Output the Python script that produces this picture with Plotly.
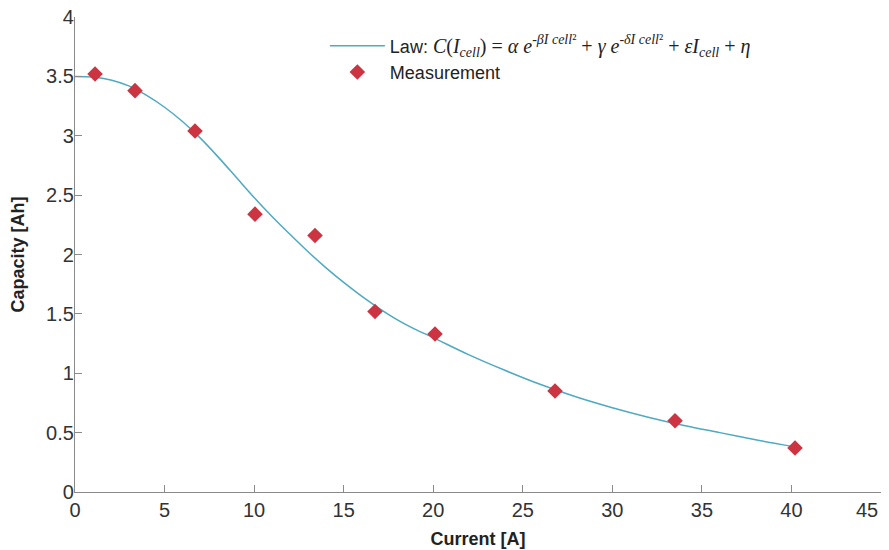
import plotly.graph_objects as go

# Measurements
meas_current = [1.12, 3.35, 6.7, 10.05, 13.4, 16.75, 20.1, 26.8, 33.5, 40.2]
meas_capacity = [3.52, 3.38, 3.04, 2.34, 2.16, 1.52, 1.33, 0.85, 0.60, 0.37]

# Fitted law
law_current = [0, 1, 2, 3, 4, 5, 6, 7, 8, 9, 10, 11, 12, 13, 14, 15, 16, 17, 18, 19, 20,
               22, 24, 26, 28, 30, 32, 34, 36, 38, 40.2]
law_capacity = [3.50, 3.495, 3.47, 3.42, 3.34, 3.24, 3.12, 2.98, 2.82, 2.65, 2.48, 2.32,
                2.17, 2.025, 1.89, 1.765, 1.65, 1.545, 1.45, 1.37, 1.30,
                1.155, 1.025, 0.905, 0.80, 0.71, 0.63, 0.56, 0.50, 0.44, 0.38]

x_ticks = [0, 5, 10, 15, 20, 25, 30, 35, 40, 45]
x_tick_labels = ["0", "5", "10", "15", "20", "25", "30", "35", "40",
                 "45&nbsp;&nbsp;&nbsp;&nbsp;&nbsp;"]
y_ticks = [0, 0.5, 1, 1.5, 2, 2.5, 3, 3.5, 4]
y_tick_labels = ["0", "0.5", "1", "1.5", "2", "2.5", "3", "3.5", "4"]

law_label = ("Law: <span style='font-family:Liberation Serif;font-size:20px'><i>C</i>(<i>I</i><sub><i>cell</i></sub>) = "
             "<i>α e</i><sup><i>-βI cell</i>²</sup> + <i>γ e</i><sup><i>-δI cell</i>²</sup> + "
             "<i>εI</i><sub><i>cell</i></sub> + <i>η</i></span>")

fig = go.Figure()
fig.add_trace(go.Scatter(
    x=law_current, y=law_capacity, mode="lines", name=law_label,
    line=dict(color="#4fa9c2", width=1.5, shape="spline", smoothing=0.8),
))
fig.add_trace(go.Scatter(
    x=meas_current, y=meas_capacity, mode="markers", name="Measurement",
    marker=dict(symbol="diamond", color="#cc3442", size=12, line=dict(width=0)),
))

font_fam = "Liberation Sans Narrow, Liberation Sans"
axis_common = dict(
    showgrid=False, zeroline=False, showline=True, linecolor="#8a8a8a", linewidth=1.2,
    ticks="inside", ticklen=7, tickcolor="#8a8a8a", tickwidth=1.2, automargin=False,
    ticklabeloverflow="allow",
    tickfont=dict(family=font_fam, size=20, color="#333333"),
)

fig.update_layout(
    width=881, height=542,
    margin=dict(l=67, r=8, t=9, b=58),
    plot_bgcolor="white", paper_bgcolor="white",
    xaxis=dict(range=[0, 45], tickvals=x_ticks, ticktext=x_tick_labels, **axis_common,
               title=dict(text="<b>Current [A]</b>", standoff=12,
                          font=dict(family=font_fam, size=18, color="#222222"))),
    yaxis=dict(range=[0, 4], tickvals=y_ticks, ticktext=y_tick_labels, **axis_common,
               ticklabelstandoff=-4,
               title=dict(text="<b>Capacity [Ah]</b>", standoff=16,
                          font=dict(family=font_fam, size=18, color="#222222"))),
    legend=dict(x=0.31, y=0.978, xanchor="left", yanchor="top",
                font=dict(family=font_fam, size=18, color="#222222"),
                bgcolor="rgba(0,0,0,0)", tracegroupgap=0, itemwidth=55),
    showlegend=True,
)

fig.write_html("out.html")
